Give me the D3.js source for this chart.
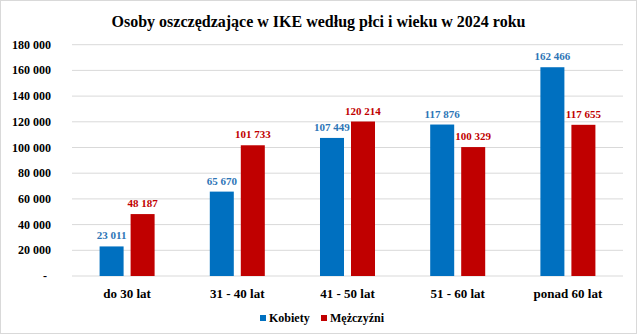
<!DOCTYPE html>
<html><head><meta charset="utf-8">
<script src="https://cdn.jsdelivr.net/npm/d3@7"></script>
<style>body{margin:0;background:#fff}svg{display:block}text{font-family:"Liberation Serif","Times New Roman",serif;font-weight:bold}</style>
</head><body><svg id="c" width="637" height="334"></svg>
<script>
const categories = ["do 30 lat","31 - 40 lat","41 - 50 lat","51 - 60 lat","ponad 60 lat"];
const seriesNames = ["Kobiety","Mężczyźni"];
const kobiety = [23011, 65670, 107449, 117876, 162466];
const mezczyzni = [48187, 101733, 120214, 100329, 117655];
const yTicks = [0,20000,40000,60000,80000,100000,120000,140000,160000,180000];
const colors = ["#0070c0","#c00000"];
const labelColors = ["#2e75b6","#c00000"];

const svg = d3.select("#c");
svg.append("rect").attr("x",0.5).attr("y",0.5).attr("width",636).attr("height",333).attr("fill","#fff").attr("stroke","#d9d9d9");

const x0 = d3.scaleBand().domain(categories).range([72,623]).padding(0);
const x1 = d3.scaleBand().domain(seriesNames).range([0,x0.bandwidth()]).paddingInner(7/31).paddingOuter(0.89);
const y = d3.scaleLinear().domain([0,180000]).range([276,44.7]);

const fmt = v => v===0 ? "-" : d3.format(",")(v).replace(/,/g," ");

svg.append("text").attr("x",318.5).attr("y",27).attr("text-anchor","middle").attr("font-size",16).attr("fill","#000")
  .text("Osoby oszczędzające  w IKE według płci i wieku w 2024 roku");

// grid
svg.append("g").selectAll("line").data(yTicks).join("line")
  .attr("x1",72).attr("x2",623).attr("y1",d=>y(d)).attr("y2",d=>y(d))
  .attr("stroke","#d9d9d9").attr("stroke-width",1);

// y axis labels
svg.append("g").selectAll("text").data(yTicks).join("text")
  .attr("x",d=>d===0?45:51).attr("y",d=>y(d)+4).attr("text-anchor",d=>d===0?"middle":"end")
  .attr("font-size",12).attr("fill","#000").text(fmt);

const data = categories.map((c,i)=>({c, vals:[kobiety[i],mezczyzni[i]]}));
const g = svg.append("g").selectAll("g").data(data).join("g").attr("transform",d=>`translate(${x0(d.c)},0)`);
g.selectAll("rect").data(d=>d.vals.map((v,j)=>({s:seriesNames[j],v,j}))).join("rect")
  .attr("x",d=>x1(d.s)).attr("width",x1.bandwidth()).attr("y",d=>y(d.v)).attr("height",d=>y(0)-y(d.v))
  .attr("fill",d=>colors[d.j]);
g.selectAll("text.v").data(d=>d.vals.map((v,j)=>({s:seriesNames[j],v,j}))).join("text")
  .attr("class","v").attr("x",d=>x1(d.s)+x1.bandwidth()/2).attr("y",d=>y(d.v)-7)
  .attr("text-anchor","middle").attr("font-size",11).attr("fill",d=>labelColors[d.j]).text(d=>fmt(d.v));

// x labels
svg.append("g").selectAll("text").data(categories).join("text")
  .attr("x",d=>x0(d)+x0.bandwidth()/2).attr("y",298).attr("text-anchor","middle")
  .attr("font-size",13).attr("fill","#000").text(d=>d);

// legend
const lx = [260, 321];
const lg = svg.append("g").selectAll("g").data(seriesNames).join("g").attr("transform",(d,i)=>`translate(${lx[i]},322)`);
lg.append("rect").attr("x",0).attr("y",-7).attr("width",6).attr("height",6).attr("fill",(d,i)=>colors[i]);
lg.append("text").attr("x",9).attr("y",0).attr("font-size",12).attr("fill","#000").text(d=>d);
</script></body></html>
